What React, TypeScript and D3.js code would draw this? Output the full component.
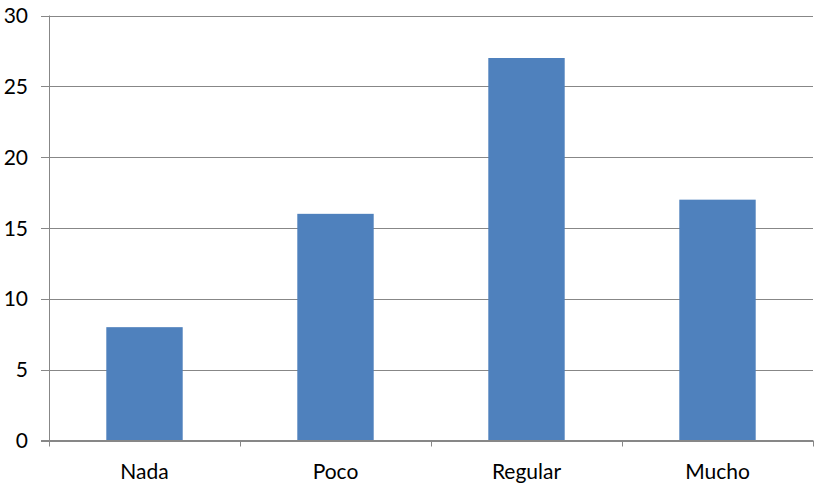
import React from "react";
import * as d3 from "d3";

const categories = ["Nada", "Poco", "Regular", "Mucho"];
const values = [8, 16, 27, 17];
const yTicks = [0, 5, 10, 15, 20, 25, 30];

const W = 828;
const H = 492;
const left = 49;
const right = 813;
const top = 15.5;
const bottom = 440.5;

export default function App() {
  const x = d3.scaleBand<string>().domain(categories).range([left, right]).paddingInner(0.6).paddingOuter(0.3);
  const xb = d3.scaleBand<string>().domain(categories).range([left, right]);
  const y = d3.scaleLinear().domain([0, 30]).range([bottom, top]);
  const font = "Lato, 'Open Sans', sans-serif";
  const bounds = categories.map((c) => xb(c)!).concat([right]);
  return (
    <svg width={W} height={H} style={{ position: "absolute", left: 0, top: 0, background: "#fff" }}>
      {yTicks.map((t) => (
        <g key={t}>
          <line x1={41} x2={right} y1={Math.round(y(t)) + 0.5} y2={Math.round(y(t)) + 0.5} stroke="#878787" strokeWidth={1} />
          <text x={28} y={y(t)} dy="0.36em" textAnchor="end" fontFamily={font} fontSize={21} fill="#000">
            {t}
          </text>
        </g>
      ))}
      {categories.map((c, i) => (
        <rect key={c} x={x(c)} y={y(values[i])} width={x.bandwidth()} height={bottom - y(values[i])} fill="#4F81BD" />
      ))}
      <line x1={left + 0.5} x2={left + 0.5} y1={top} y2={bottom} stroke="#878787" />
      <line x1={41} x2={right} y1={bottom} y2={bottom} stroke="#878787" />
      {bounds.map((b, i) => (
        <line key={i} x1={Math.round(b) + 0.5} x2={Math.round(b) + 0.5} y1={bottom} y2={bottom + 6} stroke="#878787" />
      ))}
      {categories.map((c) => (
        <text key={c} x={xb(c)! + xb.bandwidth() / 2} y={479} textAnchor="middle" fontFamily={font} fontSize={21} fill="#000">
          {c}
        </text>
      ))}
    </svg>
  );
}
